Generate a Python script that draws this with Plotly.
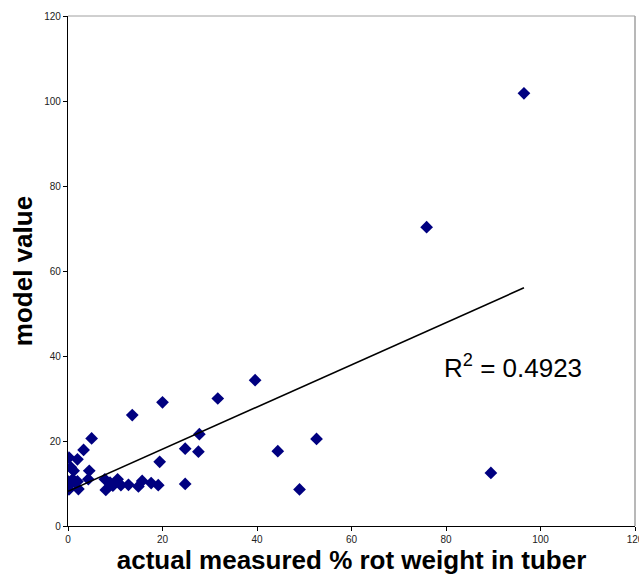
import numpy as np
import plotly.graph_objects as go

# actual measured % rot weight in tuber
actual = [
    0.0, 0.2, 0.5, 1.0, 1.5, 2.2, 2.0, 0.6, 1.2, 0.2, 2.0, 3.3, 4.5, 4.3, 5.0,
    7.8, 8.0, 8.9, 9.5, 10.5, 11.2, 12.8, 14.9, 15.7, 17.6, 19.1,
    13.6, 20.0, 31.7, 39.6, 19.4, 24.8, 27.8, 27.6, 24.8,
    44.4, 52.6, 49.0, 75.9, 89.5, 96.5,
]
# corresponding model value
model = [
    10.5, 8.6, 10.0, 11.0, 10.2, 8.7, 10.5, 13.8, 13.0, 16.1, 15.7, 17.9, 13.0, 11.0, 20.6,
    11.0, 8.5, 10.2, 9.5, 11.0, 9.6, 9.7, 9.3, 10.6, 10.1, 9.6,
    26.1, 29.1, 30.0, 34.3, 15.1, 18.2, 21.6, 17.5, 9.9,
    17.6, 20.5, 8.6, 70.3, 12.5, 101.8,
]
r2_label = "R<sup>2</sup> = 0.4923"

x = np.array(actual)
y = np.array(model)
slope, intercept = np.polyfit(x, y, 1)
fit_x = np.array([x.min(), x.max()])
fit_y = slope * fit_x + intercept

FONT = "Arial, Liberation Sans, sans-serif"

fig = go.Figure()
fig.add_trace(go.Scatter(
    x=actual, y=model, mode="markers",
    marker=dict(symbol="diamond", size=9.8, color="#000080", line=dict(width=0)),
    showlegend=False, hoverinfo="x+y",
))
fig.add_trace(go.Scatter(
    x=fit_x, y=fit_y, mode="lines",
    line=dict(color="black", width=1.6),
    showlegend=False, hoverinfo="skip",
))

fig.add_annotation(
    x=94.2, y=37.6, xref="x", yref="y", text=r2_label, showarrow=False,
    font=dict(family=FONT, size=26, color="black"),
)

axis_common = dict(
    range=[0, 120], dtick=20, showgrid=False, zeroline=False,
    showline=True, linecolor="black", linewidth=1.2,
    ticks="outside", ticklen=4, tickcolor="black", tickwidth=1,
    tickfont=dict(family=FONT, size=10, color="#222"),
    automargin=False,
)

fig.update_layout(
    width=639, height=584,
    margin=dict(l=68, r=4, t=16, b=58),
    paper_bgcolor="white", plot_bgcolor="white",
    xaxis=dict(
        **axis_common,
        ticklabeloverflow="allow",
        title=dict(text="<b>actual measured % rot weight in tuber</b>",
                   font=dict(family=FONT, size=26, color="black"), standoff=3),
    ),
    yaxis=dict(
        **axis_common,
        title=dict(text="<b>model value</b>",
                   font=dict(family=FONT, size=26, color="black"), standoff=4),
    ),
    shapes=[
        dict(type="line", xref="paper", yref="paper", x0=0, x1=1, y0=1, y1=1,
             line=dict(color="#a0a0a0", width=1)),
        dict(type="line", xref="paper", yref="paper", x0=1, x1=1, y0=0, y1=1,
             line=dict(color="#a0a0a0", width=1.5)),
    ],
)

fig.write_html("out.html")
